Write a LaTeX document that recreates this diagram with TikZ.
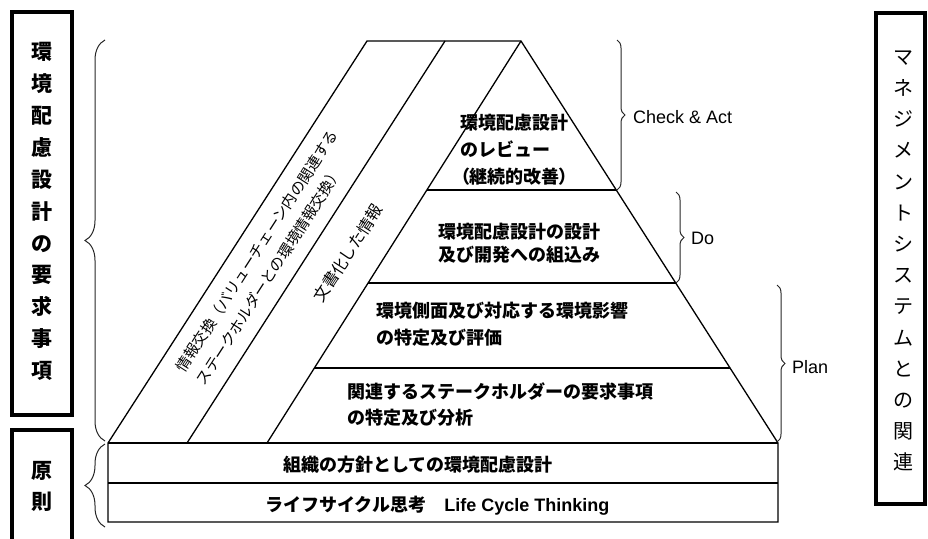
\documentclass[tikz,border=0pt]{standalone}
\usepackage{fontspec}
\newfontfamily\jp{Noto Sans CJK JP}
\newfontfamily\jpp{Noto Sans CJK JP}[RawFeature={+palt}]
\newfontfamily\lat{Liberation Sans}
\usetikzlibrary{calc,decorations.pathreplacing}
\begin{document}
\begin{tikzpicture}[x=1pt,y=-1pt,
 frame/.style={draw=black,line width=3.2pt},
 edge/.style={draw=black,line width=1.3pt},
 curly/.style={draw=black!85,line width=1pt,decorate,decoration={brace,amplitude=#1}},
 vtext/.style={align=center,inner sep=0pt},
 ptext/.style={anchor=west,align=left,inner sep=0pt},
 lbl/.style={anchor=west,inner sep=0pt,font=\lat\fontsize{18}{18}\selectfont}]
\useasboundingbox (0,0) rectangle (928,538);
% pyramid geometry
\coordinate (A) at (108,443);
\coordinate (B) at (367,41);
\coordinate (C) at (445,41);
\coordinate (P) at (521,41);
\coordinate (D) at (187,443);
\coordinate (L) at (267,443);
\coordinate (R) at (778,443);
\coordinate (Rb) at (778,522);
\coordinate (Ab) at (108,522);
\coordinate (Am) at (108,483);
\coordinate (Rm) at (778,483);
\draw[edge] (A) -- (B) -- (P) -- (R) -- (Rb) -- (Ab) -- cycle;
\draw[edge] (A) -- (R);
\draw[edge] (Am) -- (Rm);
\draw[edge] (D) -- (C);
\draw[edge] (L) -- (P);
\draw[edge] ($(P)!0.3706!(L)$) -- ($(P)!0.3706!(R)$);
\draw[edge] ($(P)!0.602!(L)$) -- ($(P)!0.602!(R)$);
\draw[edge] ($(P)!0.8134!(L)$) -- ($(P)!0.8134!(R)$);
% side boxes
\draw[frame] (12,12) rectangle (72,415);
\draw[frame] (12,545) -- (12,430) -- (72,430) -- (72,545);
\draw[frame] (876,13) rectangle (925,504);
\node[vtext,font=\jp\bfseries\fontsize{21}{31.9}\selectfont] (req) at (42,211.5)
  {環\\境\\配\\慮\\設\\計\\の\\要\\求\\事\\項};
\node[vtext,font=\jp\bfseries\fontsize{21}{31}\selectfont] (prin) at (42,486.5)
  {原\\則};
\node[vtext,font=\jp\fontsize{20}{31.2}\selectfont] (ms) at (903,261)
  {マ\\ネ\\ジ\\メ\\ン\\ト\\シ\\ス\\テ\\ム\\と\\の\\関\\連};
% braces
\draw[curly=20pt] (105,441) -- (105,40);
\draw[curly=20pt] (105,527) -- (105,444);
\draw[curly=8pt] (617,40) -- (617,190);
\draw[curly=8pt] (676,192) -- (676,283);
\draw[curly=8pt] (777,285) -- (777,442);
\node[lbl] (ca) at (633,117) {Check \& Act};
\node[lbl] (do) at (691,238) {Do};
\node[lbl] (plan) at (792,367) {Plan};
% pyramid texts
\node[ptext,font=\jp\bfseries\fontsize{18}{27}\selectfont] (t1) at (460,150)
  {環境配慮設計\\のレビュー\\{\jpp\bfseries （継続的改善）}};
\node[ptext,font=\jp\bfseries\fontsize{18}{23}\selectfont] (t2) at (438,243.5)
  {環境配慮設計の設計\\及び開発への組込み};
\node[ptext,font=\jp\bfseries\fontsize{18}{27}\selectfont] (t3) at (376,324.5)
  {環境側面及び対応する環境影響\\の特定及び評価};
\node[ptext,font=\jp\bfseries\fontsize{18}{26}\selectfont] (t4) at (347,405)
  {関連するステークホルダーの要求事項\\の特定及び分析};
\node[inner sep=0pt,font=\jp\bfseries\fontsize{18}{18}\selectfont] (b1) at (418,465)
  {組織の方針としての環境配慮設計};
\node[ptext,font=\fontsize{18}{18}\selectfont] (b2) at (265,506)
  {{\jp\bfseries ライフサイクル思考　}{\lat\bfseries Life Cycle Thinking}};
% diagonal texts
\node[align=left,inner sep=0pt,rotate=57.2,font=\jp\fontsize{15}{24}\selectfont] (dx) at (267,257.5)
  {情報交換（バリューチェーン内の関連する\\ステークホルダーとの環境情報交換）};
\node[inner sep=0pt,rotate=57.2,font=\jp\fontsize{16}{16}\selectfont] (doc) at (348,253)
  {文書化した情報};
\end{tikzpicture}
\end{document}
